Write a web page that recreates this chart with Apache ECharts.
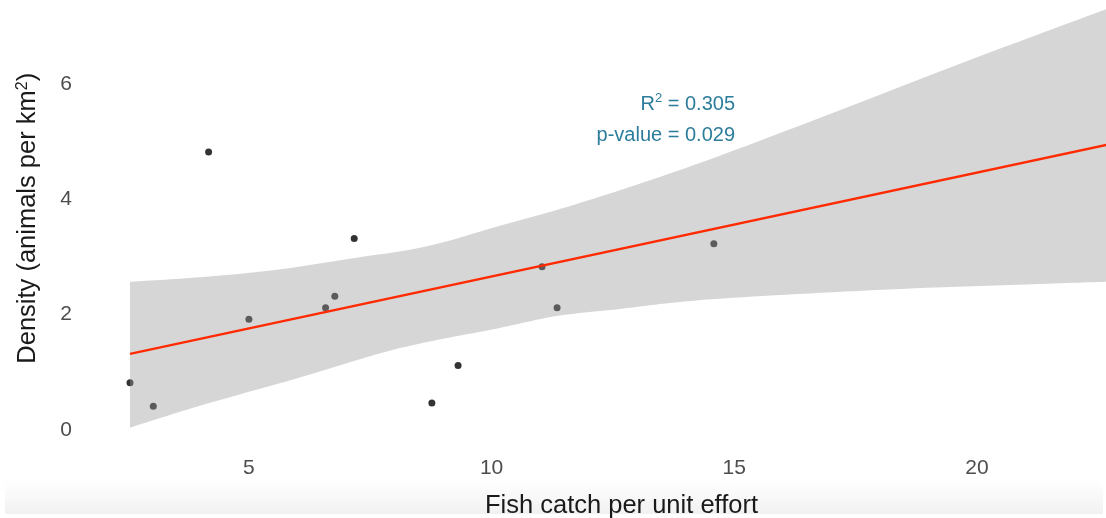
<!DOCTYPE html>
<html>
<head>
<meta charset="utf-8">
<script src="https://cdn.jsdelivr.net/npm/echarts@6/dist/echarts.min.js"></script>
<style>
html,body{margin:0;padding:0;background:#fff;}
#chart{width:1106px;height:518px;}
</style>
</head>
<body>
<div id="chart"></div>
<script>
// Observed points
var catchX = [2.55, 3.03, 4.17, 5.00, 6.58, 6.77, 7.17, 8.77, 9.31, 11.04, 11.35, 14.58];
var densityY = [0.82, 0.41, 4.82, 1.92, 2.12, 2.32, 3.32, 0.47, 1.12, 2.83, 2.12, 3.23];

// Fitted regression line (read at its ends)
var fitX = [2.55, 22.70];
var fitY = [1.32, 4.95];

// Confidence band edges
var upperX = [2.55, 3.99, 5.50, 7.08, 8.65, 10.17, 11.80, 14.29, 17.04, 19.80, 22.70];
var upperY = [2.57, 2.65, 2.77, 2.97, 3.18, 3.54, 3.93, 4.63, 5.50, 6.40, 7.31];
var lowerX = [2.55, 3.99, 6.05, 8.11, 10.17, 11.37, 12.65, 14.60, 18.31, 22.70];
var lowerY = [0.04, 0.42, 0.91, 1.42, 1.77, 1.98, 2.10, 2.27, 2.44, 2.57];

// Tick labels
var xTicks = [5, 10, 15, 20];
var yTicks = [0, 2, 4, 6];

var annR2 = '0.305';
var annP = '0.029';

var FONT = 'Liberation Sans, Arial, Helvetica, sans-serif';

var chart = echarts.init(document.getElementById('chart'), null, {renderer: 'canvas'});

var pts = catchX.map(function (x, i) { return [x, densityY[i]]; });
var fitLine = fitX.map(function (x, i) { return [x, fitY[i]]; });

// Smooth path through a list of pixel points (Catmull-Rom -> cubic Bezier)
function curveThrough(p, start) {
  var d = start ? ('M' + p[0][0] + ',' + p[0][1]) : ('L' + p[0][0] + ',' + p[0][1]);
  for (var i = 0; i < p.length - 1; i++) {
    var p0 = p[i - 1] || p[i], p1 = p[i], p2 = p[i + 1], p3 = p[i + 2] || p[i + 1];
    var c1x = p1[0] + (p2[0] - p0[0]) / 6, c1y = p1[1] + (p2[1] - p0[1]) / 6;
    var c2x = p2[0] - (p3[0] - p1[0]) / 6, c2y = p2[1] - (p3[1] - p1[1]) / 6;
    d += 'C' + c1x + ',' + c1y + ',' + c2x + ',' + c2y + ',' + p2[0] + ',' + p2[1];
  }
  return d;
}

var option = {
  backgroundColor: '#ffffff',
  animation: false,
  grid: { left: 80, right: 0, top: 0, bottom: 69.5, containLabel: false, outerBoundsMode: 'none' },
  xAxis: {
    type: 'value',
    min: 1.52,
    max: 22.66,
    axisLine: { show: false },
    axisTick: { show: false },
    splitLine: { show: false },
    axisLabel: {
      customValues: xTicks,
      color: '#4d4d4d',
      fontSize: 21,
      fontFamily: FONT,
      margin: 9
    },
    name: 'Fish catch per unit effort',
    nameLocation: 'middle',
    nameGap: 44,
    nameTextStyle: { color: '#1a1a1a', fontSize: 25.5, fontFamily: FONT, padding: [0, 0, 0, 57] }
  },
  yAxis: {
    type: 'value',
    min: -0.321,
    max: 7.456,
    axisLine: { show: false },
    axisTick: { show: false },
    splitLine: { show: false },
    axisLabel: {
      customValues: yTicks,
      color: '#4d4d4d',
      fontSize: 21,
      fontFamily: FONT,
      margin: 8
    },
    name: 'Density (animals per km{sup|2})',
    nameLocation: 'middle',
    nameGap: 39,
    nameRotate: 90,
    nameTextStyle: {
      color: '#1a1a1a', fontSize: 25.5, fontFamily: FONT,
      padding: [0, 0, 0, 12],
      rich: {
        sup: { fontSize: 16, fontFamily: FONT, color: '#1a1a1a', verticalAlign: 'top' }
      }
    }
  },
  graphic: [
    {
      type: 'rect', z: -10, silent: true,
      shape: { x: 5, y: 480, width: 1098, height: 34 },
      style: {
        fill: new echarts.graphic.LinearGradient(0, 0, 0, 1, [
          { offset: 0, color: '#ffffff' },
          { offset: 1, color: '#f1f1f1' }
        ])
      }
    },
    {
      type: 'text', z: 100, x: 735, y: 104.5,
      style: {
        text: '{a|R}{s|2}{a| = ' + annR2 + '}',
        align: 'right', verticalAlign: 'middle',
        rich: {
          a: { fontSize: 20, lineHeight: 26, fontFamily: FONT, fill: '#2c7d9c', color: '#2c7d9c' },
          s: { fontSize: 13, lineHeight: 13, fontFamily: FONT, fill: '#2c7d9c', color: '#2c7d9c', verticalAlign: 'top' }
        }
      }
    },
    {
      type: 'text', z: 100, x: 735, y: 135,
      style: {
        text: 'p-value = ' + annP,
        align: 'right', verticalAlign: 'middle',
        fontSize: 20, fontFamily: FONT, fill: '#2c7d9c'
      }
    }
  ],
  series: [
    {
      type: 'scatter',
      data: pts,
      symbol: 'circle',
      symbolSize: 7,
      itemStyle: { color: '#000000' },
      z: 2
    },
    {
      type: 'custom',
      coordinateSystem: 'cartesian2d',
      data: [[upperX[0], upperY[0]]],
      clip: true,
      silent: true,
      z: 3,
      renderItem: function (params, api) {
        var up = [], lo = [];
        for (var i = 0; i < upperX.length; i++) up.push(api.coord([upperX[i], upperY[i]]));
        for (var j = lowerX.length - 1; j >= 0; j--) lo.push(api.coord([lowerX[j], lowerY[j]]));
        var d = curveThrough(up, true) + curveThrough(lo, false) + 'Z';
        return {
          type: 'path',
          shape: { pathData: d },
          style: { fill: 'rgba(153,153,153,0.4)', stroke: null }
        };
      }
    },
    {
      type: 'line',
      data: fitLine,
      symbol: 'none',
      lineStyle: { color: '#ff2a00', width: 2.4 },
      z: 4
    }
  ]
};

chart.setOption(option);
</script>
</body>
</html>
